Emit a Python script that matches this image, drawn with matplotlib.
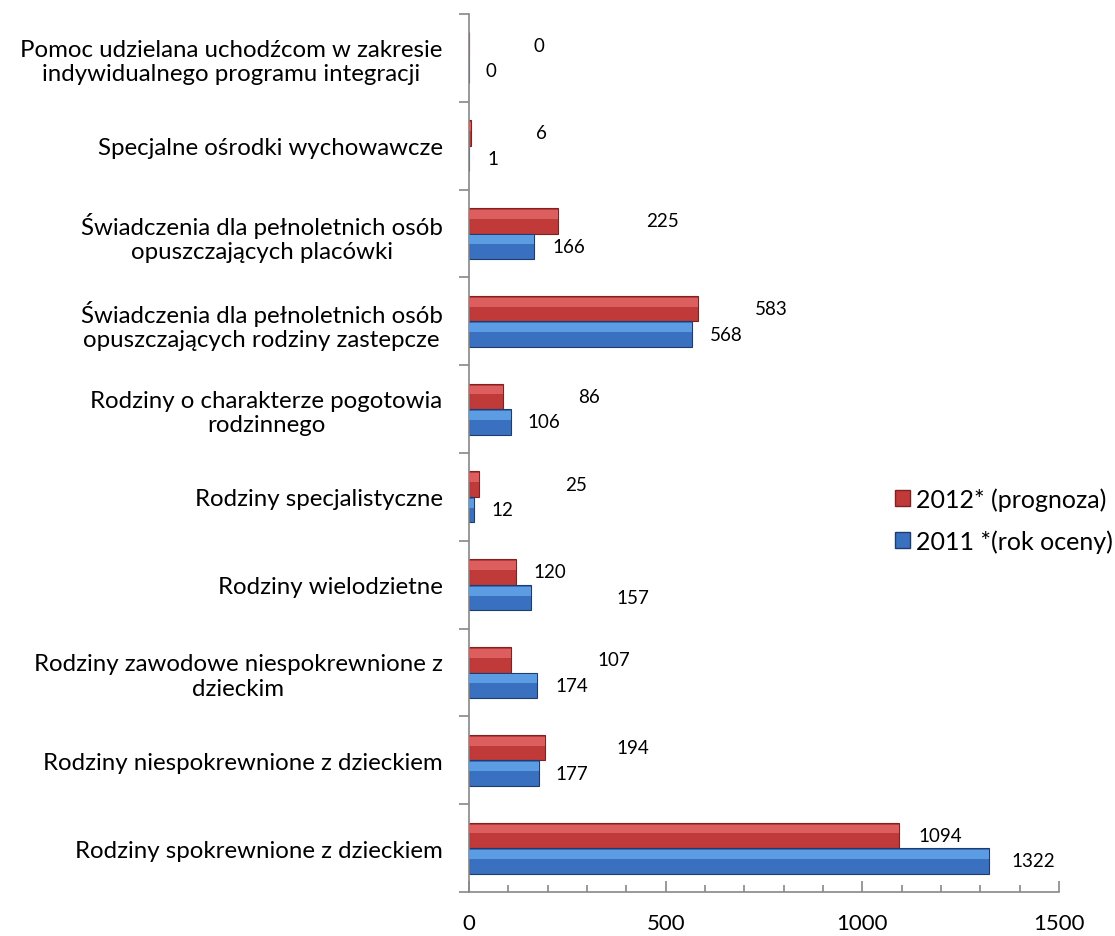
import numpy as np
import matplotlib
matplotlib.use("Agg")
import matplotlib.pyplot as plt
from matplotlib.patches import Patch
from matplotlib.ticker import MultipleLocator, FixedLocator

plt.rcParams['font.family'] = ['Lato', 'DejaVu Sans']

# categories listed top to bottom as in the chart
categories = [
    "Pomoc udzielana uchodźcom w zakresie\nindywidualnego programu integracji",
    "Specjalne ośrodki wychowawcze",
    "Świadczenia dla pełnoletnich osób\nopuszczających placówki",
    "Świadczenia dla pełnoletnich osób\nopuszczających rodziny zastepcze",
    "Rodziny o charakterze pogotowia\nrodzinnego",
    "Rodziny specjalistyczne",
    "Rodziny wielodzietne",
    "Rodziny zawodowe niespokrewnione z\ndzieckim",
    "Rodziny niespokrewnione z dzieckiem",
    "Rodziny spokrewnione z dzieckiem",
]
v2012 = [0, 6, 225, 583, 86, 25, 120, 107, 194, 1094]
v2011 = [0, 1, 166, 568, 106, 12, 157, 174, 177, 1322]
series_names = ["2012* (prognoza)", "2011 *(rok oceny)"]

# data label offsets (pixels right of bar end), as moved by hand in the original
red_dx = [64, 65, 89, 57, 75, 86, 17, 86, 71, 19]
blue_dx = [17, 18, 18, 17, 17, 18, 86, 18, 17, 22]

red = "#C03A3A"
red_hi = "#DC5E5E"
red_edge = "#7E2222"
blue = "#3970C0"
blue_hi = "#5C9CE2"
blue_edge = "#1E3D6E"

fig = plt.figure(figsize=(11.15, 9.37), dpi=100)
ax = fig.add_axes([469 / 1115, 1 - 893 / 937, 590 / 1115, (893 - 15) / 937])

n = len(categories)
y = np.arange(n)[::-1]  # top category at the top
h = 0.29

# main bars
ax.barh(y + h / 2, v2012, height=h, color=red, edgecolor=red_edge, linewidth=0.8, zorder=2)
ax.barh(y - h / 2, v2011, height=h, color=blue, edgecolor=blue_edge, linewidth=0.8, zorder=2)
# bevel highlight on top of each bar
ax.barh(y + h / 2 + h * 0.25, v2012, height=h * 0.35, color=red_hi, linewidth=0, zorder=3)
ax.barh(y - h / 2 + h * 0.25, v2011, height=h * 0.35, color=blue_hi, linewidth=0, zorder=3)

for i in range(n):
    ax.annotate(str(v2012[i]), xy=(v2012[i], y[i] + h / 2), xytext=(red_dx[i], 0),
                textcoords='offset pixels', va='center', ha='left', fontsize=13.5, color='black')
    ax.annotate(str(v2011[i]), xy=(v2011[i], y[i] - h / 2), xytext=(blue_dx[i], 0),
                textcoords='offset pixels', va='center', ha='left', fontsize=13.5, color='black')

ax.set_xlim(0, 1500)
ax.set_ylim(-0.5, n - 0.5)

ax.xaxis.set_major_locator(MultipleLocator(500))
ax.xaxis.set_minor_locator(MultipleLocator(100))
ax.tick_params(axis='x', which='major', direction='in', length=8, width=1.2, color='#888888',
               labelsize=16, pad=15)
ax.tick_params(axis='x', which='minor', direction='in', length=5, width=1.2, color='#888888')

ax.set_yticks(y)
ax.set_yticklabels(categories)
ax.yaxis.set_minor_locator(FixedLocator(np.arange(-0.5, n, 1.0)))
ax.tick_params(axis='y', which='major', length=0, labelsize=17.3, pad=19)
ax.tick_params(axis='y', which='minor', direction='out', length=7, width=1.2, color='#888888')
for lab in ax.get_yticklabels():
    lab.set_multialignment('center')
    lab.set_linespacing(1.2)

for s in ['top', 'right']:
    ax.spines[s].set_visible(False)
for s in ['left', 'bottom']:
    ax.spines[s].set_color('#888888')
    ax.spines[s].set_linewidth(1.2)

handles = [Patch(facecolor=red, edgecolor=red_edge), Patch(facecolor=blue, edgecolor=blue_edge)]
fig.legend(handles, series_names, loc='center left', bbox_to_anchor=(895 / 1115, 1 - 521 / 937),
           frameon=False, fontsize=18, handlelength=0.6, handleheight=0.6,
           handletextpad=0.25, labelspacing=0.75, borderpad=0, borderaxespad=0)

fig.savefig("out.png", dpi=100, facecolor='white')
